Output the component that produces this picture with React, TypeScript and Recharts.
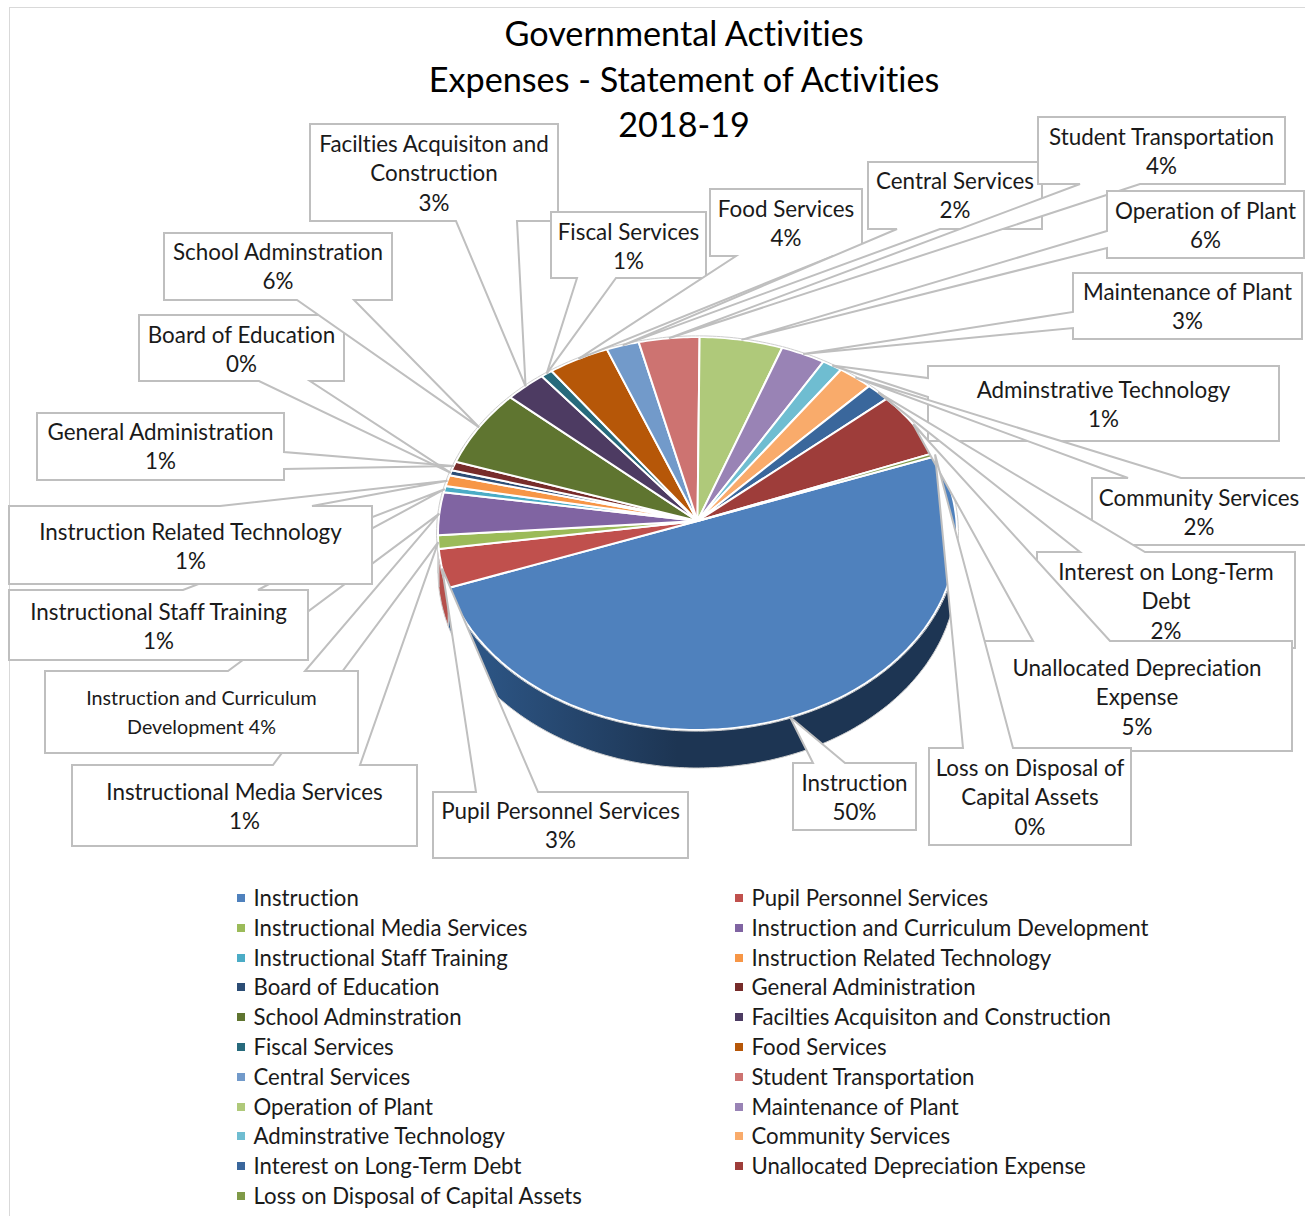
import { PieChart, Pie, Legend } from "recharts";

const W = 1305;
const H = 1216;
const FONT = "Lato, 'Open Sans', sans-serif";
const NO_LIGATURES = { fontVariantLigatures: "none" } as const;

const categories = [
  "Instruction", "Pupil Personnel Services", "Instructional Media Services", "Instruction and Curriculum Development",
  "Instructional Staff Training", "Instruction Related Technology", "Board of Education", "General Administration",
  "School Adminstration", "Facilties Acquisiton and Construction", "Fiscal Services", "Food Services",
  "Central Services", "Student Transportation", "Operation of Plant", "Maintenance of Plant",
  "Adminstrative Technology", "Community Services", "Interest on Long-Term Debt", "Unallocated Depreciation Expense",
  "Loss on Disposal of Capital Assets",
];
// percent shares (labels are the rounded values)
const shares = [50.17, 3.17, 1.11, 3.52, 0.52, 0.92, 0.44, 0.75, 6.45, 2.7, 0.78, 4.06, 2.17, 4.03, 5.52, 2.94, 1.33, 2.3, 1.56, 5.47, 0.28];
const colors = [
  "#4F81BD", "#C0504D", "#9BBB59", "#8064A2", "#4BACC6", "#F79646", "#2C4D75", "#772C2A", "#5F7530", "#4D3B62", "#276A7C",
  "#B65708", "#729ACA", "#CD7371", "#AFC97A", "#9983B5", "#6FBDD1", "#F9AB6B", "#3A679C", "#9E3D3A", "#7F9A48",
];
const titleLines = ["Governmental Activities", "Expenses - Statement of Activities", "2018-19"];

const data = categories.map((name, i) => ({ name, value: shares[i], fill: colors[i] }));
const wallData = categories.map((name, i) => ({ name, value: shares[i], fill: i === 0 ? "url(#wallBlue)" : "#b5504c" }));

// callout boxes: [x0, y0, x1, y1], which side the pointer leaves from and where on that side
type Callout = { box: number[]; side: string; base: number[]; lines: string[]; ty: number; inline?: boolean; size?: number };
const callouts: Record<string, Callout> = {
  "Instruction": { box: [793, 763, 916, 830], side: "t", base: [813, 845], lines: ["Instruction"], ty: 783 },
  "Pupil Personnel Services": { box: [433, 792, 688, 858], side: "t", base: [476, 538], lines: ["Pupil Personnel Services"], ty: 811 },
  "Instructional Media Services": { box: [72, 765, 417, 846], side: "t", base: [273, 360], lines: ["Instructional Media Services"], ty: 792 },
  "Instruction and Curriculum Development": { box: [45, 671, 358, 753], side: "t", base: [228, 305], lines: ["Instruction and Curriculum", "Development"], ty: 698, inline: true, size: 19.7 },
  "Instructional Staff Training": { box: [9, 590, 308, 660], side: "t", base: [183, 258], lines: ["Instructional Staff Training"], ty: 612 },
  "Instruction Related Technology": { box: [9, 506, 372, 584], side: "t", base: [220, 312], lines: ["Instruction Related Technology"], ty: 532 },
  "Board of Education": { box: [139, 315, 344, 381], side: "b", base: [259, 310], lines: ["Board of Education"], ty: 335 },
  "General Administration": { box: [37, 413, 284, 480], side: "r", base: [452, 469], lines: ["General Administration"], ty: 432 },
  "School Adminstration": { box: [164, 233, 392, 300], side: "b", base: [297, 354], lines: ["School Adminstration"], ty: 252 },
  "Facilties Acquisiton and Construction": { box: [310, 124, 558, 221], side: "b", base: [456, 517], lines: ["Facilties Acquisiton and", "Construction"], ty: 144 },
  "Fiscal Services": { box: [551, 212, 706, 278], side: "b", base: [577, 616], lines: ["Fiscal Services"], ty: 232 },
  "Food Services": { box: [710, 189, 862, 256], side: "b", base: [736, 833], lines: ["Food Services"], ty: 209 },
  "Central Services": { box: [868, 162, 1042, 229], side: "b", base: [897, 940], lines: ["Central Services"], ty: 181 },
  "Student Transportation": { box: [1038, 117, 1285, 184], side: "b", base: [1080, 1140], lines: ["Student Transportation"], ty: 137 },
  "Operation of Plant": { box: [1107, 191, 1304, 258], side: "l", base: [231, 248], lines: ["Operation of Plant"], ty: 211 },
  "Maintenance of Plant": { box: [1073, 273, 1302, 339], side: "l", base: [312, 328], lines: ["Maintenance of Plant"], ty: 292 },
  "Adminstrative Technology": { box: [928, 366, 1279, 441], side: "l", base: [378, 397], lines: ["Adminstrative Technology"], ty: 390 },
  "Community Services": { box: [1092, 478, 1306, 545], side: "t", base: [1128, 1181], lines: ["Community Services"], ty: 498 },
  "Interest on Long-Term Debt": { box: [1037, 552, 1295, 648], side: "t", base: [1080, 1145], lines: ["Interest on Long-Term", "Debt"], ty: 572 },
  "Unallocated Depreciation Expense": { box: [982, 641, 1292, 751], side: "t", base: [1033, 1110], lines: ["Unallocated Depreciation", "Expense"], ty: 668 },
  "Loss on Disposal of Capital Assets": { box: [929, 748, 1131, 845], side: "t", base: [963, 1013], lines: ["Loss on Disposal of", "Capital Assets"], ty: 768 },
};

// tilted disc with perspective: the ellipse centre sits a little below the apex
const TILT = 196.5 / 259.5;
const APEX_SHIFT = 12.5;
const DEPTH = 38;

function rim(cx: number, cy: number, r: number, deg: number) {
  const a = (deg * Math.PI) / 180;
  const dx = Math.cos(a);
  const dy = -Math.sin(a) * TILT;
  const ry2 = (r * TILT) ** 2;
  const A = 1 / (r * r);
  const B = (-2 * dy * APEX_SHIFT) / ry2;
  const C = (APEX_SHIFT * APEX_SHIFT) / ry2 - 1;
  const t = (-B + Math.sqrt(B * B - 4 * A * C)) / (2 * A);
  return { x: cx + t * dx, y: cy + t * dy };
}

function arc(cx: number, cy: number, r: number, from: number, to: number) {
  const n = Math.max(2, Math.ceil(Math.abs(to - from)));
  const pts = [];
  for (let i = 0; i <= n; i++) {
    const p = rim(cx, cy, r, from + ((to - from) * i) / n);
    pts.push(`${p.x.toFixed(1)} ${p.y.toFixed(1)}`);
  }
  return pts;
}

function FaceSlice(props: any) {
  const { cx, cy, outerRadius, startAngle, endAngle, fill } = props;
  const pts = arc(cx, cy, outerRadius, startAngle, endAngle);
  const edge = arc(cx, cy, outerRadius + 1.5, startAngle, endAngle);
  return (
    <g>
      <path d={`M${cx} ${cy}L${pts.join("L")}Z`} fill={fill} stroke="#fff" strokeWidth={2} strokeLinejoin="round" />
      <path d={`M${edge.join("L")}`} fill="none" stroke="#cfcfcf" strokeWidth={1} />
    </g>
  );
}

function WallSlice(props: any) {
  const { cx, cy, outerRadius, startAngle, endAngle, fill } = props;
  const top = arc(cx, cy, outerRadius, startAngle, endAngle);
  const bottom = arc(cx, cy + DEPTH, outerRadius, endAngle, startAngle);
  return <path d={`M${top.join("L")}L${bottom.join("L")}Z`} fill={fill} stroke="#cfcfcf" strokeWidth={1} />;
}

function renderCallout(props: any) {
  const { cx, cy, outerRadius, midAngle, name, percent } = props;
  const c = callouts[name];
  if (!c) return null;
  const tip = rim(cx, cy, outerRadius, midAngle);
  const [x0, y0, x1, y1] = c.box;
  const [a, b] = c.base;
  const t = `${tip.x} ${tip.y}`;
  const d = [
    `M${x0} ${y0}`,
    c.side === "t" ? `L${a} ${y0}L${t}L${b} ${y0}` : "",
    `L${x1} ${y0}`,
    c.side === "r" ? `L${x1} ${a}L${t}L${x1} ${b}` : "",
    `L${x1} ${y1}`,
    c.side === "b" ? `L${b} ${y1}L${t}L${a} ${y1}` : "",
    `L${x0} ${y1}`,
    c.side === "l" ? `L${x0} ${b}L${t}L${x0} ${a}` : "",
    "Z",
  ].join("");
  const pct = `${Math.round(percent * 100)}%`;
  const rows = c.inline ? [...c.lines.slice(0, -1), `${c.lines[c.lines.length - 1]} ${pct}`] : [...c.lines, pct];
  const size = c.size ?? 22.4;
  return (
    <g>
      <path d={d} fill="#fff" stroke="#bfbfbf" strokeWidth={2} />
      {rows.map((row, i) => (
        <text key={i} x={(x0 + x1) / 2} y={c.ty + i * 29.6 + size * 0.35} textAnchor="middle" fontFamily={FONT} fontSize={size} fill="#1a1a1a" style={NO_LIGATURES}>
          {row}
        </text>
      ))}
    </g>
  );
}

function renderLegend(props: any) {
  // the wall series also reports entries, only the face colours go in the legend
  const items = (props.payload ?? []).filter((item: any) => colors.includes(item.color));
  return (
    <div style={{ position: "relative", width: W, height: 330, fontFamily: FONT, fontSize: 22.2, color: "#1a1a1a", fontVariantLigatures: "none" }}>
      {items.map((item: any, i: number) => {
        const left = i % 2 === 0 ? 237 : 735;
        const top = 14 + Math.floor(i / 2) * 29.8;
        return (
          <div key={item.value} style={{ position: "absolute", left, top, whiteSpace: "nowrap", lineHeight: "8px", height: 8 }}>
            <span style={{ display: "inline-block", width: 8, height: 8, background: item.color, marginRight: 8.5, verticalAlign: "top" }} />
            <span>{item.value}</span>
          </div>
        );
      })}
    </div>
  );
}

export default function App() {
  return (
    <div style={{ position: "absolute", left: 0, top: 0, width: W, height: H, overflow: "hidden", background: "#fff" }}>
      <PieChart width={W} height={H} margin={{ top: 0, right: 0, bottom: 0, left: 0 }}>
        <defs>
          <linearGradient id="wallBlue" x1="0" x2="1" y1="0" y2="0">
            <stop offset="0" stopColor="#2f5a8c" />
            <stop offset="0.45" stopColor="#1d3553" />
            <stop offset="1" stopColor="#1d3553" />
          </linearGradient>
        </defs>
        <rect x={9.5} y={7.5} width={1400} height={1400} fill="none" stroke="#d9d9d9" strokeWidth={1} />
        {titleLines.map((line, i) => (
          <text key={line} x={684} y={46 + i * 45.5} textAnchor="middle" fontFamily={FONT} fontSize={34.2} fill="#000" style={NO_LIGATURES}>
            {line}
          </text>
        ))}
        <Pie
          data={wallData}
          dataKey="value"
          nameKey="name"
          cx={697.5}
          cy={521}
          outerRadius={259.5}
          startAngle={19.8}
          endAngle={-340.2}
          shape={WallSlice}
          legendType="none"
          isAnimationActive={false}
        />
        <Pie
          data={data}
          dataKey="value"
          nameKey="name"
          cx={697.5}
          cy={521}
          outerRadius={259.5}
          startAngle={19.8}
          endAngle={-340.2}
          shape={FaceSlice}
          label={renderCallout}
          labelLine={false}
          isAnimationActive={false}
        />
        <Legend content={renderLegend} itemSorter={null} verticalAlign="bottom" wrapperStyle={{ left: 0, top: 880, width: W, height: 330 }} />
      </PieChart>
    </div>
  );
}
